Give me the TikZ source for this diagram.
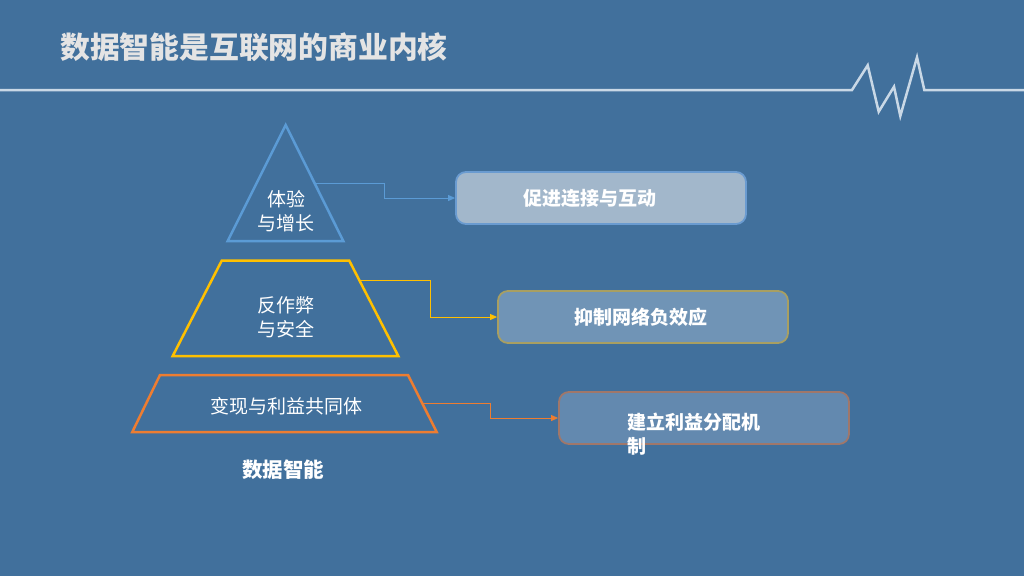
\documentclass[tikz,border=0pt]{standalone}
\usepackage{fontspec}
\setmainfont{Noto Sans CJK SC}
\usetikzlibrary{arrows.meta,positioning}

\definecolor{bgblue}{HTML}{41709C}
\definecolor{titlegray}{HTML}{E4E4E4}
\definecolor{pulsegray}{HTML}{C9D8E6}
\definecolor{tierblue}{HTML}{5B9BD5}
\definecolor{tieryellow}{HTML}{FFC000}
\definecolor{tierorange}{HTML}{ED7D31}
\definecolor{goalfillA}{HTML}{A2B7CB}
\definecolor{goalfillB}{HTML}{7094B6}
\definecolor{goalfillC}{HTML}{6389AF}
\definecolor{goaldrawA}{HTML}{6A9BD0}
\definecolor{goaldrawB}{HTML}{A89F62}
\definecolor{goaldrawC}{HTML}{A0776A}

\begin{document}
\begin{tikzpicture}[x=1pt, y=-1pt,
    layer/.style={line width=2.5pt, line join=miter},
    tiertext/.style={text=white, align=center, inner sep=0pt,
        font=\fontsize{19}{24}\selectfont},
    goalbox/.style={rectangle, rounded corners=10pt, line width=1.8pt,
        minimum width=290pt, minimum height=52pt},
    goaltext/.style={text=white, inner sep=0pt,
        font=\bfseries\fontsize{19}{24}\selectfont},
    link/.style={-{Triangle[length=7pt, width=6pt]}, line width=0.9pt}
]
\fill[bgblue] (0,0) rectangle (1024,576);
\useasboundingbox (0,0) rectangle (1024,576);

% title and pulse line
\node[anchor=west, text=titlegray, inner sep=0pt,
    font=\bfseries\fontsize{29.8}{32}\selectfont] (title) at (60,47) {数据智能是互联网的商业内核};
\draw[pulsegray, line width=2.5pt] (0,90) -- (852,90) -- (867.7,65.3) -- (878.7,111.7)
    -- (894,86.7) -- (900.3,116) -- (917,57.3) -- (924.3,90) -- (1024,90);

% pyramid
\draw[layer, tierblue] (285.7,125) -- (343.3,241) -- (227.7,241) -- cycle;
\draw[layer, tieryellow] (221.7,260.7) -- (349.3,260.7) -- (398.3,356) -- (172.7,356) -- cycle;
\draw[layer, tierorange] (160,375) -- (408,375) -- (436.7,432) -- (132.3,432) -- cycle;

\node[tiertext] (tier1) at (286,211) {体验\\与增长};
\node[tiertext] (tier2) at (286,317) {反作弊\\与安全};
\node[tiertext] (tier3) at (286,406) {变现与利益共同体};
\node[text=white, inner sep=0pt, font=\bfseries\fontsize{20.5}{24}\selectfont] (base) at (283,470) {数据智能};

\coordinate (tier1-out) at (315,183.3);
\coordinate (tier2-out) at (361,280.3);
\coordinate (tier3-out) at (423,403.3);

% goals
\node[goalbox, fill=goalfillA, draw=goaldrawA] (goal1) at (601,198) {};
\node[goalbox, fill=goalfillB, draw=goaldrawB] (goal2) at (643,317) {};
\node[goalbox, fill=goalfillC, draw=goaldrawC] (goal3) at (704,418) {};

\node[goaltext] (goal1-text) at (590,198) {促进连接与互动};
\node[goaltext] (goal2-text) at (640.5,317) {抑制网络负效应};
\node[goaltext, anchor=north west, align=left] (goal3-text) at (627,412.5) {建立利益分配机\\制};

% links
\draw[link, tierblue] (tier1-out) -- ++(69,0) |- (goal1.west);
\draw[link, tieryellow] (tier2-out) -- ++(69,0) |- (goal2.west);
\draw[link, tierorange] (tier3-out) -- ++(67,0) |- (goal3.west);

\end{tikzpicture}
\end{document}
